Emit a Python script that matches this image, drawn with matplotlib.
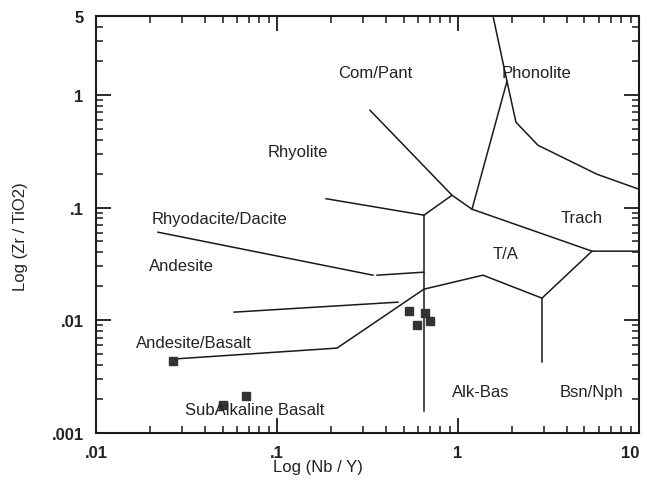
import matplotlib
matplotlib.use("Agg")
import matplotlib.pyplot as plt
from matplotlib.ticker import LogLocator, FixedLocator, FixedFormatter, NullFormatter

# boundaries of the Zr/TiO2 vs Nb/Y diagram
rhyodacite_andesite_a = [(0.0220, 0.0604), (0.339, 0.0251)]
rhyodacite_andesite_b = [(0.357, 0.0251), (0.6487, 0.0267)]
rhyolite_rhyodacite = [(0.1866, 0.1197), (0.6487, 0.0855), (0.9266, 0.1285)]
compant_rhyolite = [(0.3265, 0.729), (0.9266, 0.1285), (1.195, 0.0966)]
ta_upper = [(1.195, 0.0966), (5.50, 0.0410), (10, 0.0410)]
phonolite_left = [(1.195, 0.0966), (1.865, 1.318), (1.561, 5)]
phonolite_trach = [(1.865, 1.318), (2.091, 0.571), (2.767, 0.3566), (5.86, 0.1973), (10, 0.1453)]
subalk_alk = [(0.6487, 0.0855), (0.6487, 0.00158)]
andesite_basalt = [(0.0263, 0.00452), (0.2145, 0.00566), (0.6487, 0.01887),
                   (1.374, 0.0251), (2.911, 0.0157), (5.50, 0.0410)]
andesite_andbasalt = [(0.0579, 0.0118), (0.4661, 0.01447)]
bsn_alk = [(2.911, 0.0157), (2.911, 0.00425)]

boundaries = [rhyodacite_andesite_a, rhyodacite_andesite_b, rhyolite_rhyodacite,
              compant_rhyolite, ta_upper, phonolite_left, phonolite_trach,
              subalk_alk, andesite_basalt, andesite_andbasalt, bsn_alk]

# samples
nb_y = [0.0266, 0.0503, 0.0674, 0.536, 0.5935, 0.6537, 0.700]
zr_tio2 = [0.00434, 0.00177, 0.00212, 0.01204, 0.00905, 0.01156, 0.00982]

field_names = ["Com/Pant", "Phonolite", "Rhyolite", "Rhyodacite/Dacite", "Trach", "T/A",
               "Andesite", "Andesite/Basalt", "Alk-Bas", "Bsn/Nph", "SubAlkaline Basalt"]
field_x = [0.348, 2.73, 0.1306, 0.0484, 4.84, 1.84, 0.0295, 0.0348, 1.34, 5.50, 0.0756]
field_y = [1.58, 1.58, 0.3156, 0.0804, 0.0819, 0.0394, 0.0308, 0.0064, 0.00235, 0.00235, 0.00163]

xticks = [0.01, 0.1, 1, 10]
xtick_labels = [".01", ".1", "1", "10"]
yticks = [0.001, 0.01, 0.1, 1, 5]
ytick_labels = [".001", ".01", ".1", "1", "5"]

lab_font = dict(family=["Liberation Sans", "DejaVu Sans"], fontsize=12, color="#222222")

fig = plt.figure(figsize=(6.47, 4.85), dpi=100)
ax = fig.add_axes([0.1484, 0.1052, 0.8392, 0.8598])
ax.set_xscale("log")
ax.set_yscale("log")
ax.set_xlim(0.01, 10)
ax.set_ylim(0.001, 5)

for b in boundaries:
    xs = [p[0] for p in b]
    ys = [p[1] for p in b]
    ax.plot(xs, ys, color="#1a1a1a", lw=1.1, solid_joinstyle="miter")

ax.plot(nb_y, zr_tio2, "s", color="#333333", ms=5.5, zorder=3)

for name, x, y in zip(field_names, field_x, field_y):
    ax.text(x, y, name, ha="center", va="center", **lab_font)

ax.xaxis.set_major_locator(FixedLocator(xticks))
ax.xaxis.set_major_formatter(FixedFormatter(xtick_labels))
ax.yaxis.set_major_locator(FixedLocator(yticks))
ax.yaxis.set_major_formatter(FixedFormatter(ytick_labels))
ax.xaxis.set_minor_locator(LogLocator(base=10, subs=range(2, 10), numticks=20))
ax.yaxis.set_minor_locator(LogLocator(base=10, subs=range(2, 10), numticks=20))
ax.xaxis.set_minor_formatter(NullFormatter())
ax.yaxis.set_minor_formatter(NullFormatter())

ax.tick_params(which="both", direction="in", top=True, right=True, color="#1a1a1a")
ax.tick_params(which="major", length=10.5, width=1.3, labelsize=12, pad=9)
ax.tick_params(which="minor", length=5, width=1.1)
for lbl in ax.get_xticklabels() + ax.get_yticklabels():
    lbl.set_fontfamily(["Liberation Sans", "DejaVu Sans"])
    lbl.set_fontweight("bold")
    lbl.set_color("#222222")
# keep the last x label inside the figure
ax.get_xticklabels()[-1].set_horizontalalignment("right")
ax.get_xticklabels()[-1].set_x(10.4)
for s in ax.spines.values():
    s.set_linewidth(1.5)
    s.set_color("#1a1a1a")

fig.text(0.4915, 0.037, "Log (Nb / Y)", ha="center", va="center", **lab_font)
fig.text(0.031, 0.513, "Log (Zr / TiO2)", ha="center", va="center", rotation=90, **lab_font)

fig.savefig("out.png", dpi=100)
